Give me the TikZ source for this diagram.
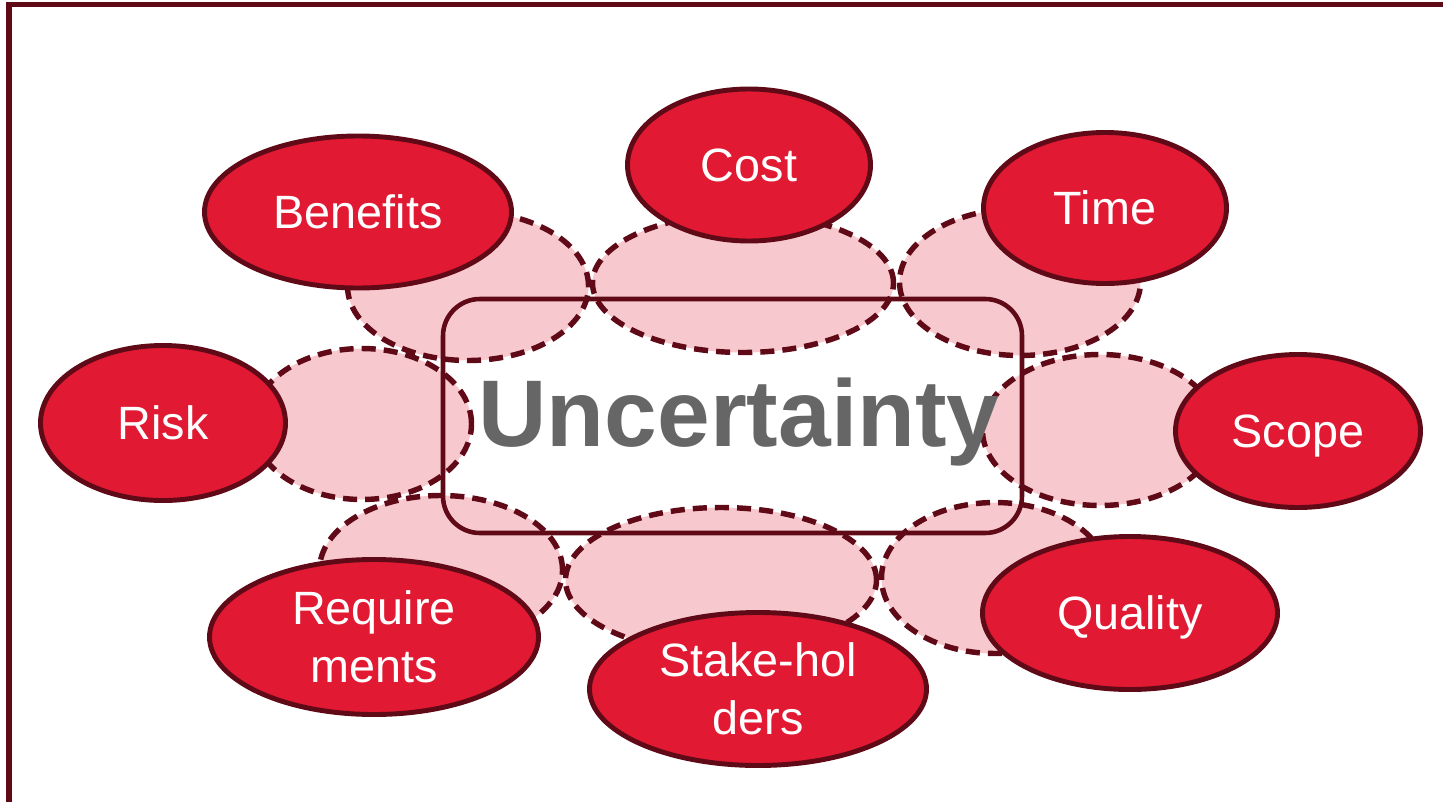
\documentclass[tikz,border=0pt]{standalone}
\usepackage{fontspec}
\setmainfont{Liberation Sans}
\usetikzlibrary{shapes.geometric}
\definecolor{dred}{HTML}{600A18}
\definecolor{bred}{HTML}{E11932}
\definecolor{pinkf}{HTML}{F7C9CE}
\definecolor{ugray}{HTML}{666666}
\tikzset{
  ell/.style 2 args={ellipse, inner sep=0pt, outer sep=0pt,
    minimum width={(2*#1-5)*0.02cm}, minimum height={(2*#2-5)*0.02cm}},
  redell/.style={draw=dred, fill=bred, line width=2.8pt, text=white,
    font=\fontsize{26.6pt}{32.9pt}\selectfont, align=center},
  oneline/.style={text height=19pt, text depth=0pt},
  pinkell/.style={draw=dred, fill=pinkf, line width=3.1pt,
    dash pattern=on 8pt off 4.6pt},
  frameline/.style={draw=dred, line width=3.4pt},
  corebox/.style={draw=dred, line width=2.6pt, rounded corners=21pt,
    rectangle, inner sep=0pt, minimum width={579*0.02cm}, minimum height={234*0.02cm}},
  bigtext/.style={text=ugray, font=\fontsize{53.9pt}{60pt}\selectfont\bfseries, inner sep=0pt}
}
\begin{document}
\begin{tikzpicture}[x=0.02cm, y=-0.02cm]
\useasboundingbox (0,0) rectangle (1443,801);
\clip (0,0) rectangle (1443,801);
\fill[white] (0,0) rectangle (1443,801);
% frame
\coordinate (fb) at (9,820);
\coordinate (fc) at (9,4.5);
\coordinate (fr) at (1460,4.5);
\draw[frameline] (fb) -- (fc) -- (fr);
% pink ellipses
\node[pinkell, ell={123}{77}] (pBen) at (468,286) {};
\node[pinkell, ell={112}{78}] (pRisk) at (362,424) {};
\node[pinkell, ell={153}{72}] (pCost) at (743,283) {};
\node[pinkell, ell={123}{76}] (pTime) at (1020,282) {};
\node[pinkell, ell={120}{78}] (pScope) at (1100,430) {};
\node[pinkell, ell={124}{77}] (pReq) at (441,570) {};
\node[pinkell, ell={158}{75}] (pStake) at (721,580) {};
\node[pinkell, ell={116}{78}] (pQual) at (995,578) {};
% central box
\node[corebox] (core) at (732.5,416) {};
% red ellipses
\node[redell, oneline, ell={156}{78.5}] (ben) at (358,212) {Benefits};
\node[redell, oneline, ell={124}{78.5}] (cost) at (749,165) {Cost};
\node[redell, oneline, ell={124}{78}] (time) at (1105,208) {Time};
\node[redell, oneline, ell={125}{80}] (risk) at (163,423) {Risk};
\node[redell, oneline, ell={125}{79}] (scope) at (1298,431) {Scope};
\node[redell, ell={167}{80}] (req) at (374,637) {Require\\ments};
\node[redell, ell={171}{79}] (stake) at (758,689) {Stake-hol\\ders};
\node[redell, oneline, ell={150}{79}] (qual) at (1130,613) {Quality};
% main text
\node[bigtext, anchor=base] (unc) at (739,446) {Uncertainty};
\end{tikzpicture}
\end{document}
